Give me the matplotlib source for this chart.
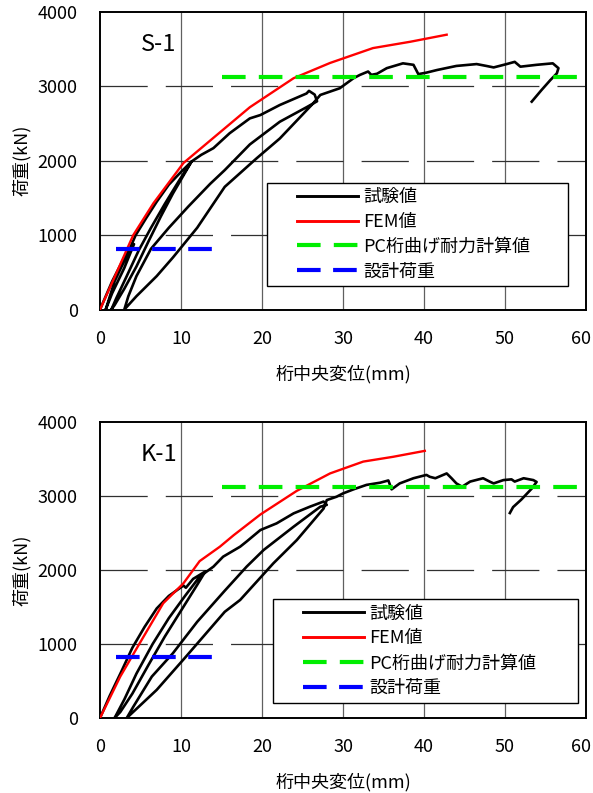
import matplotlib
matplotlib.use("Agg")
import matplotlib.pyplot as plt
from matplotlib.lines import Line2D
from matplotlib.legend_handler import HandlerLine2D
from matplotlib.transforms import ScaledTranslation

plt.rcParams['font.family'] = ['Noto Sans CJK JP', 'DejaVu Sans']
plt.rcParams['lines.scale_dashes'] = False

# ---------------- data ----------------
x_ticks = [0, 10, 20, 30, 40, 50, 60]
y_ticks = [0, 1000, 2000, 3000, 4000]
xlabel = "桁中央変位(mm)"
ylabel = "荷重(kN)"
legend_labels = ["試験値", "FEM値", "PC桁曲げ耐力計算値", "設計荷重"]

# S-1
s1_title = "S-1"
s1_fem_x = [0, 1.65, 4.1, 6.6, 10.3, 14.4, 18.5, 23.9, 28.4, 33.7, 38.3, 42.8]
s1_fem_y = [0, 400, 1000, 1430, 1970, 2345, 2720, 3110, 3315, 3515, 3600, 3695]
s1_test_x = [0, 1.5, 3.0, 4.2, 3.0, 1.5, 0.7, 1.8, 3.2, 4.4, 5.7, 7.0, 8.5, 10.0, 11.3,
             10.5, 9.0, 7.5, 6.0, 4.5, 3.0, 1.8, 1.4,
             2.0, 3.3, 4.8, 6.3, 8.0, 9.8, 11.3,
             12.5, 14.0, 16.0, 18.5, 19.8, 22.2, 25.5, 25.8, 26.5, 26.8,
             25.5, 22.2, 18.5, 15.4, 13.6, 10.9, 8.5, 6.3, 4.5, 3.5, 3.0,
             4.5, 7.0, 9.0, 12.0, 15.4, 19.3, 22.2, 26.3,
             27.2, 28.4, 29.6, 31.3, 32.1, 33.1, 33.5, 34.2, 35.4, 37.4, 38.7, 39.3, 40.3,
             41.6, 44.0, 46.5, 47.7, 48.6, 50.2, 51.2, 51.9, 53.9, 55.9, 56.6, 56.4, 55.6,
             54.5, 53.3]
s1_test_y = [0, 380, 700, 880, 560, 220, 0, 380, 700, 1000, 1230, 1450, 1680, 1850, 1990,
             1840, 1560, 1250, 920, 580, 280, 60, 0,
             150, 450, 800, 1100, 1420, 1740, 1990,
             2080, 2170, 2370, 2570, 2615, 2750, 2905, 2940, 2890, 2800,
             2720, 2525, 2220, 1875, 1690, 1385, 1100, 818, 450, 180, 0,
             180, 450, 700, 1100, 1650, 2030, 2300, 2770,
             2885, 2930, 2975, 3110, 3155, 3200, 3155, 3170, 3245, 3310, 3290, 3165, 3185,
             3220, 3275, 3300, 3275, 3255, 3300, 3330, 3265, 3290, 3310, 3245, 3175, 3085,
             2950, 2795]

# K-1
k1_title = "K-1"
k1_fem_x = [0, 2.5, 4.9, 7.8, 10.3, 12.3, 14.8, 16.5, 19.8, 24.3, 28.4, 32.5, 36.2, 40.1]
k1_fem_y = [0, 560, 1010, 1550, 1820, 2120, 2315, 2470, 2750, 3070, 3305, 3465, 3530, 3610]
k1_test_x = [0, 1.2, 2.6, 4.0, 5.5, 7.0, 8.5, 10.3, 10.6, 11.5, 13.0,
             12.0, 10.0, 8.0, 6.0, 4.0, 2.5, 1.8,
             3.0, 4.5, 6.5, 8.5, 10.5, 12.3,
             14.0, 15.2, 17.3, 18.1, 19.8, 21.8, 23.9, 25.9, 27.6, 28.0,
             27.2, 23.9, 20.2, 18.1, 15.4, 12.0, 9.0, 6.4, 4.1, 3.3,
             7.0, 10.5, 15.4, 17.3, 21.4, 24.3, 27.6,
             28.0, 29.2, 30.0, 31.3, 32.9, 34.6, 35.6, 36.0, 37.0, 38.7, 40.3, 40.7, 41.4,
             42.8, 43.4, 44.0, 44.7, 45.7, 47.3, 48.1, 48.6, 49.8, 50.8, 51.2, 52.3, 53.5,
             53.9, 53.3, 52.0, 51.0, 50.6]
k1_test_y = [0, 300, 620, 950, 1230, 1480, 1650, 1790, 1760, 1880, 1980,
             1800, 1450, 1100, 720, 330, 80, 0,
             250, 600, 1000, 1350, 1650, 1910,
             2045, 2180, 2315, 2385, 2540, 2630, 2765, 2855, 2925, 2880,
             2855, 2585, 2270, 2045, 1720, 1300, 875, 560, 150, 0,
             380, 815, 1435, 1595, 2090, 2405, 2830,
             2945, 2990, 3035, 3090, 3150, 3180, 3210, 3090, 3170, 3240, 3285, 3260, 3240,
             3305, 3240, 3170, 3125, 3195, 3240, 3195, 3170, 3215, 3225, 3195, 3240, 3215,
             3190, 3100, 2950, 2850, 2770]

pc_capacity = [3120, 3120]
pc_x = [15, 60]
design_load = [820, 820]
design_x = [2, 14]

panels = [
    (s1_title, s1_test_x, s1_test_y, s1_fem_x, s1_fem_y,
     (0.3436, 0.079, 0.6193, 0.35)),
    (k1_title, k1_test_x, k1_test_y, k1_fem_x, k1_fem_y,
     (0.356, 0.052, 0.6276, 0.35)),
]

# ---------------- figure ----------------
W, H = 593, 793
FS = 13
fig = plt.figure(figsize=(W / 100, H / 100), dpi=100)
rects = [
    [100 / W, 1 - 309.6 / H, 486 / W, 297.6 / H],
    [100 / W, 1 - 718 / H, 486 / W, 296 / H],
]

green = '#00ee00'
for rect, (title, tx, ty, fx, fy, legbox) in zip(rects, panels):
    ax = fig.add_axes(rect)
    ax.set_xlim(0, 60)
    ax.set_ylim(0, 4000)
    ax.set_xticks(x_ticks)
    ax.set_yticks(y_ticks)
    ax.tick_params(length=0, labelsize=FS)
    ax.tick_params(axis='x', pad=14.5)
    ax.tick_params(axis='y', pad=16)
    last = ax.get_xticklabels()[-1]
    last.set_transform(last.get_transform() + ScaledTranslation(-5 / 100, 0, fig.dpi_scale_trans))
    for s in ax.spines.values():
        s.set_linewidth(1.4)
        s.set_color('black')
    # grid
    for xv in x_ticks[1:-1]:
        ax.axvline(xv, color='#606060', lw=0.9, zorder=1)
    for yv in y_ticks[1:-1]:
        ax.axhline(yv, color='#303030', lw=0.9, dashes=(34, 13), zorder=1)

    ax.plot(tx, ty, color='black', lw=1.9, zorder=3, solid_joinstyle='round')
    ax.plot(fx, fy, color='red', lw=1.7, zorder=4)
    ax.plot(pc_x, pc_capacity, color=green, lw=3, dashes=(17, 9.5), zorder=5)
    ax.plot(design_x, design_load, color='blue', lw=3, dashes=(17, 9), zorder=5)

    ax.text(5.0, 3560, title, fontsize=17, va='center', ha='left', zorder=6)
    ax.set_xlabel(xlabel, fontsize=FS, labelpad=12)
    ax.set_ylabel(ylabel, fontsize=FS, labelpad=5)

    h1 = Line2D([], [], color='black', lw=2.1)
    h2 = Line2D([], [], color='red', lw=2.1)
    h3 = Line2D([], [], color=green, lw=3, dashes=(17, 9.5))
    h4 = Line2D([], [], color='blue', lw=3, dashes=(17, 9))
    hm = {h: HandlerLine2D(xpad=1.35) for h in (h1, h2, h3, h4)}
    leg = ax.legend([h1, h2, h3, h4], legend_labels, loc='lower left',
                    bbox_to_anchor=legbox, mode='expand', borderaxespad=0,
                    fontsize=FS, handlelength=4.75, handletextpad=0.3,
                    labelspacing=0.38, borderpad=0.3, fancybox=False,
                    framealpha=1, edgecolor='black', handler_map=hm)
    leg.get_frame().set_linewidth(1.0)
    leg.set_zorder(10)

fig.savefig("out.png", dpi=100)
